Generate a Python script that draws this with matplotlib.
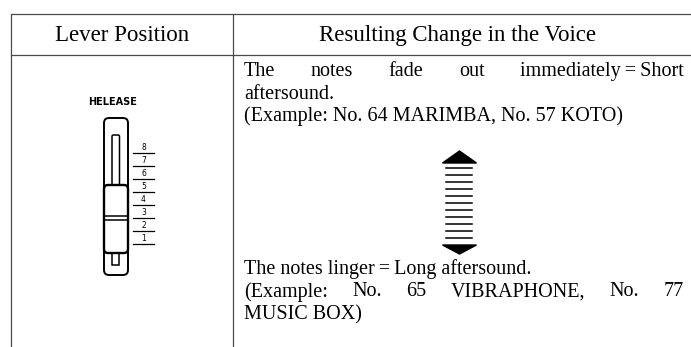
import matplotlib
matplotlib.use('Agg')
import matplotlib.pyplot as plt
from matplotlib.patches import FancyBboxPatch, Polygon, Rectangle

# Содержимое таблицы
header_labels = ['Lever Position', 'Resulting Change in the Voice']
short_lines = ['The notes fade out immediately\u2009=\u2009Short',
               'aftersound.',
               '(Example: No. 64 MARIMBA, No. 57 KOTO)']
long_lines = ['The notes linger\u2009=\u2009Long aftersound.',
              '(Example: No. 65 VIBRAPHONE, No. 77',
              'MUSIC BOX)']
justified = [True, False, False]
justified_long = [False, True, False]
slider_title = 'HELEASE'
scale_labels = ['8', '7', '6', '5', '4', '3', '2', '1']
n_hatch = 11

SERIF = ['Liberation Serif', 'DejaVu Serif']
LINE = '#4a4a4a'
BODY = 14.5

fig = plt.figure(figsize=(6.91, 3.47), dpi=100)
ax = fig.add_axes([0, 0, 1, 1])
ax.set_xlim(0, 691)
ax.set_ylim(347, 0)
ax.axis('off')

# Линии таблицы
left, mid, right = 11, 233, 691
top, head_bot, bottom = 14, 55, 347
ax.plot([left, right], [top, top], color=LINE, lw=0.9)
ax.plot([left, right], [head_bot, head_bot], color=LINE, lw=0.9)
ax.plot([left, left], [top, bottom], color=LINE, lw=0.9)
ax.plot([mid, mid], [top, bottom], color=LINE, lw=0.9)

# Заголовки
ax.text((left + mid) / 2, 35, header_labels[0], ha='center', va='center',
        fontsize=16.5, family=SERIF)
ax.text((mid + right) / 2 - 4, 35, header_labels[1], ha='center', va='center',
        fontsize=16.5, family=SERIF)

renderer = fig.canvas.get_renderer()


def draw_line(text, x0, x1, y, justify):
    """Рисует строку текста; при justify растягивает её по ширине."""
    if not justify:
        ax.text(x0, y, text, ha='left', va='baseline', fontsize=BODY,
                family=SERIF)
        return
    words = text.split(' ')
    objs = [ax.text(x0, y, w, ha='left', va='baseline', fontsize=BODY,
                    family=SERIF) for w in words]
    widths = [o.get_window_extent(renderer).width for o in objs]
    gap = (x1 - x0 - sum(widths)) / (len(words) - 1)
    x = x0
    for o, w in zip(objs, widths):
        o.set_x(x)
        x += w + gap


tx0, tx1 = 244, 684
for i, (s, j) in enumerate(zip(short_lines, justified)):
    draw_line(s, tx0, tx1, 76 + i * 22.5, j)
for i, (s, j) in enumerate(zip(long_lines, justified_long)):
    draw_line(s, tx0, tx1, 274 + i * 22.5, j)

# Стрелка
acx = 459.5
ax.add_patch(Polygon([[acx - 17, 163], [acx + 17, 163], [acx, 151]],
                     closed=True, color='black'))
ax.add_patch(Polygon([[acx - 17, 245], [acx + 17, 245], [acx, 254]],
                     closed=True, color='black'))
for k in range(n_hatch):
    yy = 168 + k * 7
    ax.plot([acx - 13, acx + 13], [yy, yy], color='black', lw=1.1)

# Ползунок
ax.text(112.5, 102, slider_title, ha='center', va='center', fontsize=7,
        fontweight='bold', family='DejaVu Sans')
ax.add_patch(FancyBboxPatch((104, 118), 24, 157,
                            boxstyle='round,pad=0,rounding_size=5',
                            fill=False, ec='black', lw=1.4))
ax.add_patch(FancyBboxPatch((112, 135), 7.5, 52,
                            boxstyle='round,pad=0,rounding_size=1.5',
                            fill=False, ec='black', lw=1.1))
ax.add_patch(Rectangle((112, 252), 7.5, 13, fill=False, ec='black', lw=1.1))
ax.add_patch(FancyBboxPatch((104, 185), 24, 68,
                            boxstyle='round,pad=0,rounding_size=4',
                            fc='white', ec='black', lw=1.7))
ax.plot([104, 128], [216, 216], color='black', lw=1.1)
ax.plot([104, 128], [220, 220], color='black', lw=1.1)
for k, lab in enumerate(scale_labels):
    yy = 153 + k * 13
    ax.plot([133, 154], [yy, yy], color='black', lw=0.9)
    ax.text(143.5, yy - 1.5, lab, ha='center', va='bottom', fontsize=5.5,
            family='DejaVu Sans')

fig.savefig('out.png', dpi=100)
